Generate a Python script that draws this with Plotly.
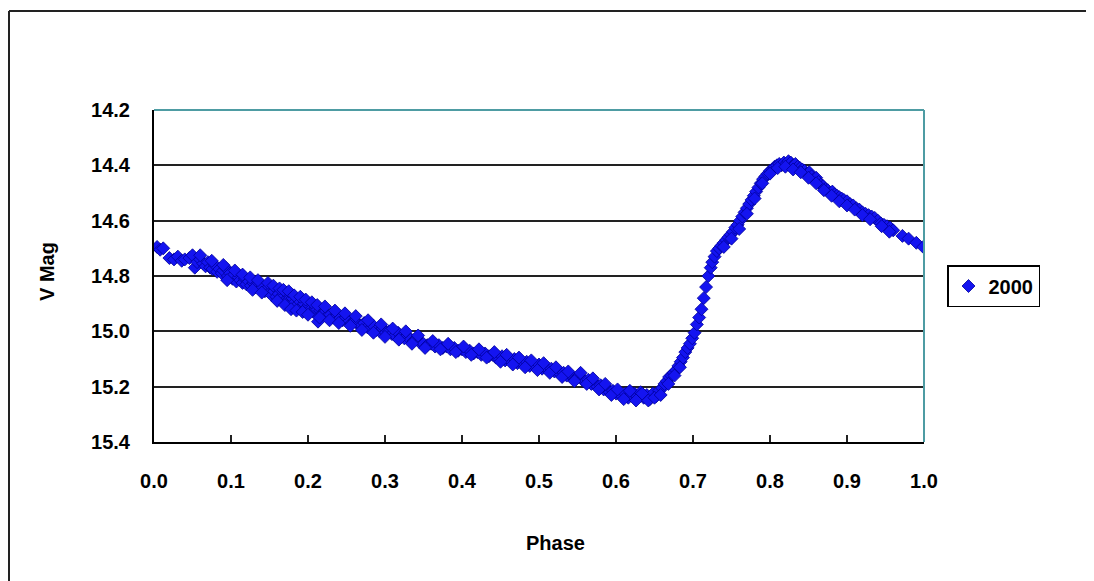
import plotly.graph_objects as go

series_name = "2000"
x_title = "Phase"
y_title = "V Mag"
x_ticks = [0.0, 0.1, 0.2, 0.3, 0.4, 0.5, 0.6, 0.7, 0.8, 0.9, 1.0]
y_ticks = [14.2, 14.4, 14.6, 14.8, 15.0, 15.2, 15.4]

phase = [
    0.004, 0.008, 0.012, 0.020, 0.026, 0.031, 0.036, 0.040, 0.046, 0.050,
    0.053, 0.056, 0.060, 0.064, 0.067, 0.070, 0.073, 0.076, 0.079, 0.082,
    0.085, 0.088, 0.090, 0.093, 0.096, 0.099, 0.102, 0.104, 0.107, 0.110,
    0.112, 0.115, 0.118, 0.120, 0.123, 0.126, 0.129, 0.132, 0.135, 0.138,
    0.141, 0.144, 0.147, 0.150, 0.153, 0.156, 0.159, 0.162, 0.165, 0.167,
    0.170, 0.172, 0.175, 0.177, 0.180, 0.183, 0.186, 0.189, 0.192, 0.195,
    0.198, 0.201, 0.204, 0.207, 0.210, 0.213, 0.216, 0.219, 0.222, 0.225,
    0.229, 0.233, 0.237, 0.241, 0.245, 0.249, 0.253, 0.257, 0.261, 0.265,
    0.269, 0.273, 0.277, 0.281, 0.285, 0.289, 0.293, 0.297, 0.301, 0.305,
    0.309, 0.313, 0.317, 0.321, 0.325, 0.329, 0.333, 0.337, 0.341, 0.345,
    0.350, 0.355, 0.360, 0.365, 0.370, 0.375, 0.380, 0.385, 0.390, 0.395,
    0.400, 0.405, 0.410, 0.415, 0.420, 0.425, 0.430, 0.435, 0.440, 0.444,
    0.448, 0.452, 0.456, 0.460, 0.464, 0.468, 0.472, 0.476, 0.480, 0.484,
    0.488, 0.492, 0.496, 0.500, 0.504, 0.508, 0.512, 0.516, 0.520, 0.524,
    0.528, 0.532, 0.536, 0.540, 0.544, 0.548, 0.552, 0.556, 0.560, 0.564,
    0.568, 0.572, 0.576, 0.580, 0.584, 0.588, 0.592, 0.596, 0.600, 0.604,
    0.608, 0.612, 0.616, 0.620, 0.624, 0.628, 0.632, 0.636, 0.640, 0.644,
    0.648, 0.652, 0.656, 0.660, 0.663, 0.666, 0.669, 0.672, 0.675, 0.678,
    0.681, 0.684, 0.687, 0.690, 0.693, 0.696, 0.699, 0.702, 0.705, 0.708,
    0.711, 0.714, 0.717, 0.720, 0.723, 0.725, 0.728, 0.731, 0.734, 0.737,
    0.740, 0.743, 0.746, 0.749, 0.752, 0.755, 0.758, 0.761, 0.764, 0.767,
    0.770, 0.773, 0.776, 0.779, 0.782, 0.785, 0.788, 0.791, 0.794, 0.797,
    0.800, 0.803, 0.806, 0.809, 0.812, 0.815, 0.818, 0.821, 0.824, 0.827,
    0.830, 0.833, 0.836, 0.839, 0.842, 0.845, 0.848, 0.851, 0.854, 0.857,
    0.860, 0.863, 0.866, 0.869, 0.872, 0.875, 0.878, 0.881, 0.884, 0.887,
    0.890, 0.893, 0.896, 0.900, 0.904, 0.908, 0.912, 0.916, 0.920, 0.924,
    0.928, 0.932, 0.936, 0.940, 0.944, 0.948, 0.952, 0.956, 0.960, 0.972,
    0.980, 0.990, 0.999,
    # edge points of the scatter band
    0.060, 0.075, 0.090, 0.095, 0.105, 0.115, 0.125, 0.128, 0.135, 0.140,
    0.148, 0.155, 0.160, 0.163, 0.168, 0.170, 0.175, 0.178, 0.182, 0.185,
    0.190, 0.193, 0.197, 0.200, 0.205, 0.212, 0.215, 0.222, 0.228, 0.235,
    0.240, 0.248, 0.255, 0.262, 0.270, 0.278, 0.285, 0.295, 0.300, 0.310,
    0.318, 0.327, 0.335, 0.343, 0.352, 0.362, 0.372, 0.382, 0.392, 0.402,
    0.412, 0.422, 0.432, 0.442, 0.450, 0.458, 0.466, 0.474, 0.482, 0.490,
    0.498, 0.506, 0.514, 0.522, 0.530, 0.538, 0.546, 0.554, 0.562, 0.570,
    0.578, 0.586, 0.594, 0.602, 0.610, 0.618, 0.626, 0.634, 0.642, 0.650,
    0.658, 0.668, 0.676, 0.683, 0.740, 0.750, 0.760, 0.770, 0.780, 0.790,
    0.800, 0.810, 0.820, 0.830, 0.840, 0.850, 0.860, 0.870, 0.880, 0.890,
    0.900, 0.910, 0.920, 0.930, 0.945, 0.955,
]

vmag = [
    14.695, 14.705, 14.700, 14.735, 14.740, 14.730, 14.745, 14.740, 14.735, 14.725,
    14.770, 14.750, 14.740, 14.755, 14.765, 14.750, 14.770, 14.775, 14.760, 14.785,
    14.775, 14.790, 14.780, 14.770, 14.800, 14.790, 14.810, 14.795, 14.820, 14.805,
    14.815, 14.825, 14.810, 14.830, 14.820, 14.835, 14.825, 14.840, 14.830, 14.850,
    14.840, 14.855, 14.845, 14.860, 14.870, 14.855, 14.875, 14.865, 14.880, 14.870,
    14.890, 14.860, 14.885, 14.900, 14.880, 14.895, 14.905, 14.890, 14.910, 14.900,
    14.915, 14.905, 14.920, 14.930, 14.915, 14.965, 14.925, 14.935, 14.930, 14.945,
    14.940, 14.950, 14.945, 14.955, 14.960, 14.950, 14.965, 14.970, 14.960, 14.975,
    14.980, 14.970, 14.985, 14.990, 14.980, 14.995, 15.000, 14.990, 15.005, 15.000,
    15.010, 15.015, 15.005, 15.020, 15.025, 15.015, 15.030, 15.035, 15.025, 15.040,
    15.045, 15.050, 15.045, 15.055, 15.050, 15.060, 15.055, 15.065, 15.060, 15.070,
    15.065, 15.075, 15.070, 15.080, 15.075, 15.085, 15.080, 15.090, 15.085, 15.095,
    15.100, 15.090, 15.105, 15.095, 15.110, 15.100, 15.115, 15.105, 15.120, 15.110,
    15.125, 15.115, 15.130, 15.120, 15.135, 15.130, 15.140, 15.135, 15.145, 15.140,
    15.155, 15.150, 15.160, 15.155, 15.165, 15.170, 15.160, 15.175, 15.180, 15.175,
    15.190, 15.185, 15.200, 15.195, 15.210, 15.205, 15.220, 15.215, 15.225, 15.220,
    15.235, 15.225, 15.240, 15.230, 15.225, 15.235, 15.220, 15.240, 15.230, 15.245,
    15.225, 15.235, 15.215, 15.205, 15.190, 15.180, 15.165, 15.160, 15.150, 15.140,
    15.125, 15.110, 15.095, 15.075, 15.060, 15.045, 15.025, 15.005, 14.975, 14.950,
    14.920, 14.880, 14.840, 14.800, 14.770, 14.750, 14.730, 14.710, 14.700, 14.690,
    14.680, 14.670, 14.660, 14.650, 14.640, 14.625, 14.615, 14.600, 14.585, 14.570,
    14.555, 14.540, 14.525, 14.510, 14.495, 14.480, 14.465, 14.450, 14.440, 14.430,
    14.420, 14.415, 14.405, 14.400, 14.395, 14.400, 14.390, 14.395, 14.385, 14.390,
    14.400, 14.395, 14.405, 14.410, 14.415, 14.420, 14.430, 14.425, 14.440, 14.450,
    14.445, 14.460, 14.470, 14.475, 14.485, 14.490, 14.500, 14.495, 14.505, 14.510,
    14.515, 14.520, 14.525, 14.530, 14.540, 14.545, 14.555, 14.560, 14.570, 14.575,
    14.580, 14.585, 14.590, 14.600, 14.610, 14.615, 14.620, 14.625, 14.635, 14.655,
    14.665, 14.680, 14.695,
    # edge points of the scatter band
    14.725, 14.745, 14.760, 14.815, 14.780, 14.795, 14.805, 14.850, 14.815, 14.860,
    14.825, 14.835, 14.890, 14.845, 14.850, 14.905, 14.855, 14.920, 14.870, 14.925,
    14.875, 14.930, 14.885, 14.940, 14.895, 14.905, 14.950, 14.910, 14.960, 14.925,
    14.970, 14.935, 14.980, 14.945, 14.995, 14.960, 15.005, 14.975, 15.020, 14.990,
    15.030, 15.000, 15.045, 15.015, 15.060, 15.035, 15.065, 15.045, 15.075, 15.055,
    15.085, 15.065, 15.095, 15.075, 15.110, 15.085, 15.120, 15.095, 15.130, 15.105,
    15.140, 15.115, 15.150, 15.130, 15.165, 15.145, 15.180, 15.150, 15.190, 15.170,
    15.210, 15.190, 15.230, 15.210, 15.245, 15.215, 15.250, 15.225, 15.250, 15.240,
    15.230, 15.190, 15.160, 15.130, 14.695, 14.665, 14.630, 14.575, 14.520, 14.465,
    14.430, 14.410, 14.405, 14.415, 14.425, 14.445, 14.465, 14.490, 14.510, 14.530,
    14.545, 14.560, 14.580, 14.595, 14.620, 14.640,
]

FONT = "Liberation Sans, Arial, sans-serif"
OFF = 8  # page body margin in the browser
W, H = 1094 - OFF, 581 - OFF
L, R, T, B = 154 - OFF, 924 - OFF, 110 - OFF, 442 - OFF


def px(x):
    return (x - OFF - L) / (R - L)


def py(y):
    return (B - (y - OFF)) / (B - T)


fig = go.Figure()
fig.add_trace(go.Scatter(
    x=phase, y=vmag, mode="markers", name=series_name,
    marker=dict(symbol="diamond", size=10, color="#1414F0",
                line=dict(color="#00009A", width=0.8)),
))

fig.update_layout(
    width=W, height=H,
    margin=dict(l=L, r=W - R, t=T, b=H - B),
    paper_bgcolor="white", plot_bgcolor="white",
    font=dict(family=FONT, size=20, color="black"),
    showlegend=True,
    legend=dict(x=px(947), y=py(265), xanchor="left", yanchor="top",
                bordercolor="black", borderwidth=1.5, bgcolor="white",
                font=dict(family=FONT, size=20, color="black", weight="bold"),
                itemwidth=30, tracegroupgap=0),
    xaxis=dict(range=[0, 1], tickvals=x_ticks, ticktext=[f"{v:.1f}" for v in x_ticks],
               showgrid=False, zeroline=False, showline=True, linecolor="black",
               linewidth=2, ticks="inside", ticklen=7, tickwidth=2, tickcolor="#222",
               ticklabelstandoff=20,
               tickfont=dict(family=FONT, size=20, color="black", weight="bold")),
    yaxis=dict(range=[15.4, 14.2], tickvals=y_ticks, ticktext=[f"{v:.1f}" for v in y_ticks],
               showgrid=True, gridcolor="#222", gridwidth=2, zeroline=False,
               showline=True, linecolor="black", linewidth=2, ticks="",
               ticklabelstandoff=18,
               tickfont=dict(family=FONT, size=20, color="black", weight="bold")),
    annotations=[
        dict(text=x_title, x=px(555), y=py(543), xref="paper", yref="paper",
             xanchor="center", yanchor="middle",
             showarrow=False, font=dict(family=FONT, size=20, weight="bold")),
        dict(text=y_title, x=px(47), y=py(272), xref="paper", yref="paper",
             xanchor="center", yanchor="middle",
             showarrow=False, textangle=-90,
             font=dict(family=FONT, size=20, weight="bold")),
    ],
    shapes=[
        dict(type="line", xref="paper", yref="paper", x0=0, x1=1, y0=1, y1=1,
             line=dict(color="#4E9CA3", width=2)),
        dict(type="line", xref="paper", yref="paper", x0=1, x1=1, y0=0, y1=1,
             line=dict(color="#4E9CA3", width=2)),
        dict(type="line", xref="paper", yref="paper", x0=px(9), x1=px(1094),
             y0=py(11), y1=py(11), line=dict(color="#222", width=2)),
        dict(type="line", xref="paper", yref="paper", x0=px(9), x1=px(9),
             y0=py(11), y1=py(581), line=dict(color="#222", width=2)),
    ],
)

fig.write_html("out.html")
